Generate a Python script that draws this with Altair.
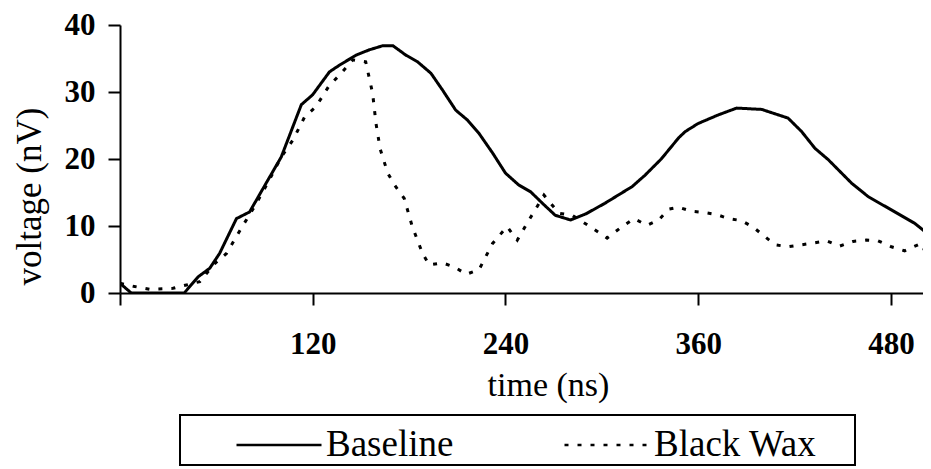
import altair as alt
import pandas as pd

# Baseline series (time ns, voltage nV)
baseline_t = [0, 7, 20, 40, 48.6, 55.9, 62, 72.5, 80.7, 91, 100.4, 112.9, 120, 130.4, 136.6, 147,
              155.3, 163.5, 170, 178, 185.3, 193.6, 200.8, 209, 216.4, 223.6, 232, 240, 248.4,
              255.7, 263, 271, 280.5, 290, 302, 319, 327, 337, 348, 352, 360, 372.7, 384, 399.6,
              416, 424.4, 432.7, 441, 455.5, 465.8, 480.3, 494.8, 503.7]
baseline_v = [1.45, 0, 0, 0, 2.4, 3.7, 5.9, 11.1, 12.1, 16.4, 20.3, 28.1, 29.6, 33.0, 34.0, 35.5,
              36.3, 36.9, 36.9, 35.5, 34.5, 32.8, 30.3, 27.3, 25.8, 23.8, 20.9, 17.9, 16.1,
              15.1, 13.4, 11.6, 10.9, 11.8, 13.4, 15.9, 17.6, 20.0, 23.2, 24.1, 25.3, 26.6, 27.6, 27.4,
              26.1, 24.1, 21.6, 19.9, 16.4, 14.4, 12.4, 10.4, 8.7]

# Black Wax series
wax_t = [0, 8.3, 18.6, 33, 41.4, 49.7, 59, 66.3, 76.6, 85, 93, 100.4, 107.6, 115, 122, 130.4,
         136.6, 145, 153, 157.3, 159.4, 162, 166.7, 171, 177, 182, 188.4, 192.5, 200.8, 208,
         215.7, 223.6, 232, 241, 247.4, 254.7, 264, 273.3, 281.6, 294, 303.3, 312.6, 320, 328.2,
         335.4, 341.6, 347.8, 356, 364.4, 371.6, 379, 387, 394.4, 401.6, 407.8, 416, 424.4,
         432.7, 440, 448.2, 456.5, 464.7, 472, 480.3, 488.6, 497, 499, 503]
wax_v = [1.45, 1.0, 0.55, 0.7, 1.2, 1.7, 4.4, 5.9, 10.1, 13.4, 16.9, 20.3, 22.8, 26.3, 27.8, 31.0,
         32.5, 34.8, 34.5, 29.8, 25.3, 21.5, 17.9, 16.1, 14.1, 9.9, 5.9, 4.2, 4.5, 3.9,
         2.8, 3.5, 7.4, 9.9, 7.9, 10.9, 14.6, 11.9, 11.6, 9.7, 8.2, 9.9, 11.1, 10.1,
         10.9, 12.5, 12.8, 12.2, 12.0, 11.7, 11.1, 10.8, 9.8, 8.4, 7.2, 6.9, 7.2,
         7.5, 7.8, 7.0, 7.7, 7.9, 7.8, 6.9, 6.3, 7.2, 7.4, 5.2]

series_names = ["Baseline", "Black Wax"]
x_ticks = [0, 120, 240, 360, 480]
y_ticks = [0, 10, 20, 30, 40]

df = pd.concat([
    pd.DataFrame({"time": baseline_t, "voltage": baseline_v, "series": series_names[0]}),
    pd.DataFrame({"time": wax_t, "voltage": wax_v, "series": series_names[1]}),
])
df["order"] = range(len(df))

FONT = "Liberation Serif"

lines = alt.Chart(df).mark_line(color="black", strokeWidth=3, clip=True).encode(
    x=alt.X("time:Q",
            scale=alt.Scale(domain=[0, 500], nice=False),
            axis=alt.Axis(values=x_ticks, title="time (ns)",
                          labelExpr="datum.value == 0 ? '' : datum.label",
                          labelPadding=24,
                          titleX=428, titleY=102, titleBaseline="alphabetic",
                          titleAlign="center", titleAnchor="start")),
    y=alt.Y("voltage:Q",
            scale=alt.Scale(domain=[0, 40], nice=False),
            axis=alt.Axis(values=y_ticks, title="voltage (nV)", labelPadding=13,
                          titleX=-80, titleY=171, titleBaseline="alphabetic",
                          titleAlign="center", titleAnchor="start", titleAngle=270,
                          titleFontSize=35)),
    strokeDash=alt.StrokeDash("series:N",
                              scale=alt.Scale(domain=series_names, range=[[1, 0], [4, 9]]),
                              legend=alt.Legend(orient="none", legendX=115, legendY=376,
                                                direction="horizontal", title=None,
                                                symbolType="stroke", symbolSize=7225,
                                                symbolStrokeWidth=2.6, symbolStrokeColor="black",
                                                labelFont=FONT, labelFontSize=37,
                                                labelColor="black", labelOffset=3,
                                                labelLimit=400, columnPadding=105,
                                                padding=0)),
    order="order:Q",
)

frame = alt.Chart(pd.DataFrame({"a": [0]})).mark_rect(
    filled=False, stroke="black", strokeWidth=2
).encode(
    x=alt.value(60), x2=alt.value(735), y=alt.value(390), y2=alt.value(440)
)

chart = alt.layer(frame, lines).properties(
    width=803, height=268,
    autosize=alt.AutoSizeParams(type="none"),
    padding={"left": 112, "top": 17, "right": 0, "bottom": 175},
).configure_view(stroke=None).configure_axis(
    grid=False,
    domainColor="black", domainWidth=2,
    tickColor="black", tickWidth=2, tickSize=12,
    labelFont=FONT, labelFontWeight="bold", labelFontSize=31, labelColor="black",
    titleFont=FONT, titleFontWeight="normal", titleFontSize=34, titleColor="black",
).configure_legend(
    labelFont=FONT, labelFontSize=37, labelColor="black",
)

chart.save("out.html", embed_options={"renderer": "svg", "actions": False})
